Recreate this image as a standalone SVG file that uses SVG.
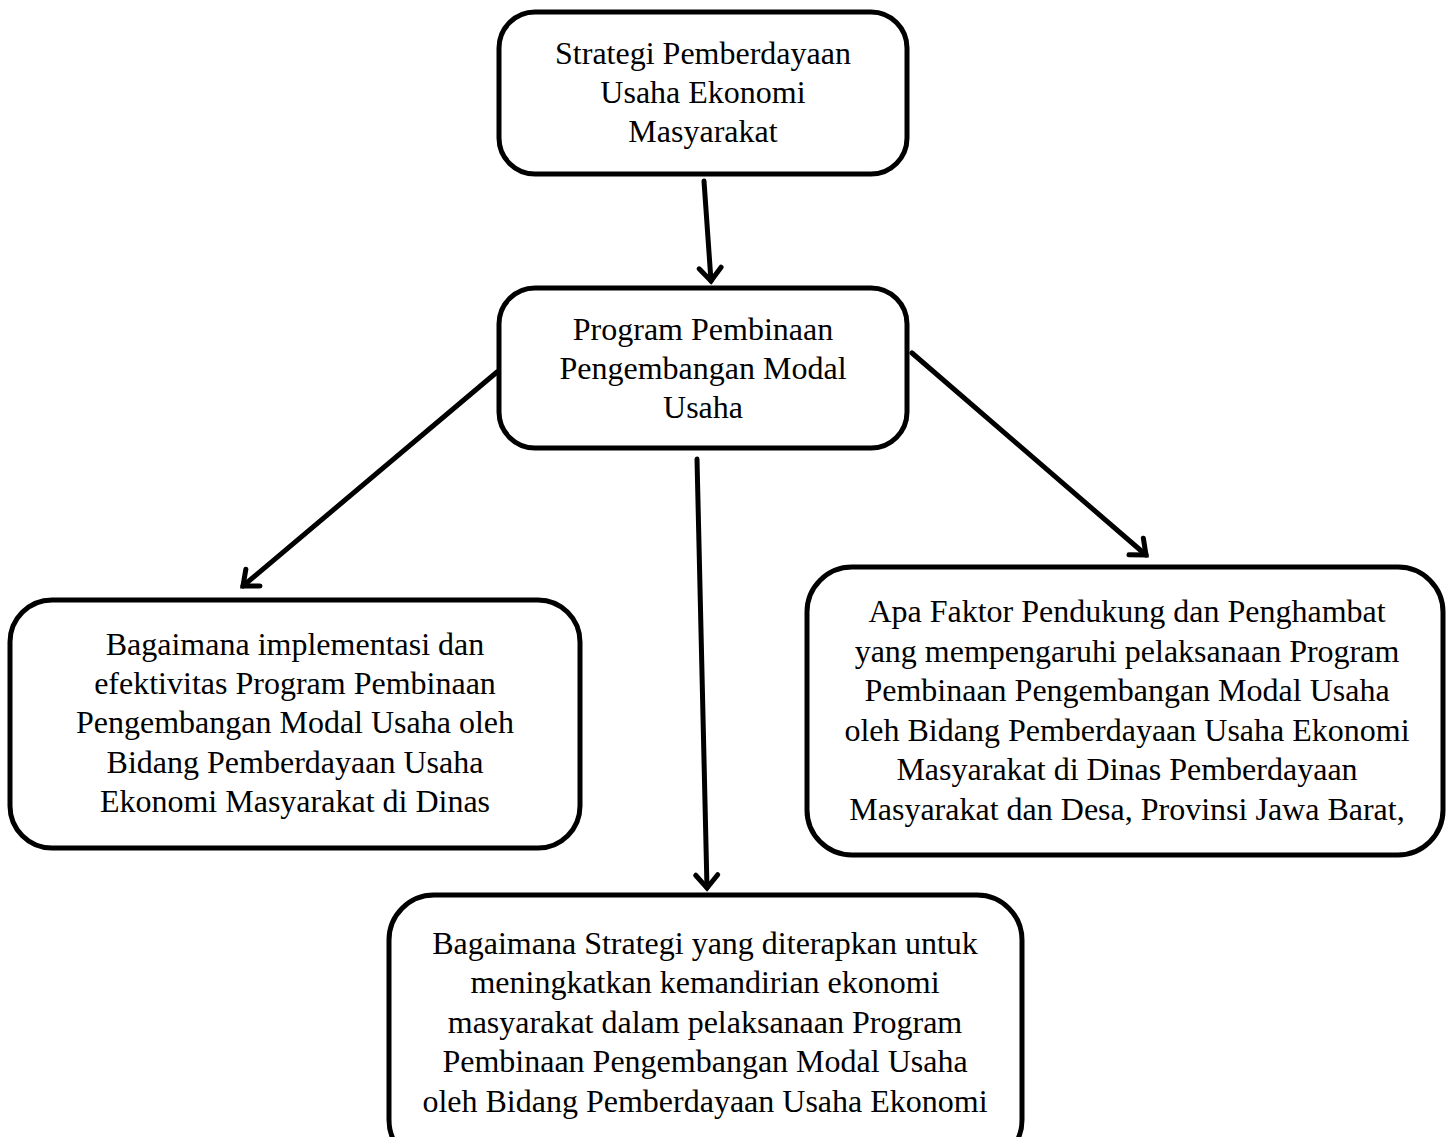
<svg xmlns="http://www.w3.org/2000/svg" width="1453" height="1137" viewBox="0 0 1453 1137">
<style>
.box{fill:#fff;stroke:#000;stroke-width:5}
.t{font-family:"Liberation Serif","Times New Roman",serif;font-size:32px;fill:#000;text-anchor:middle}
.c{stroke:#000;stroke-width:5;fill:none;stroke-linecap:round}
</style>
<defs>
<marker id="ah" markerUnits="userSpaceOnUse" viewBox="-20 -16 24 32" refX="0" refY="0" markerWidth="24" markerHeight="32" orient="auto">
<path d="M-13,-11 L0,0 L-13,11" fill="none" stroke="#000" stroke-width="5" stroke-linecap="round" stroke-linejoin="miter"/>
</marker>
</defs>
<rect width="1453" height="1137" fill="#fff"/>
<g id="connectors">
<line class="c" x1="704" y1="181" x2="711" y2="281" marker-end="url(#ah)"/>
<line class="c" x1="497" y1="372" x2="243" y2="586" marker-end="url(#ah)"/>
<line class="c" x1="912" y1="353" x2="1146" y2="555" marker-end="url(#ah)"/>
<line class="c" x1="697" y1="459" x2="707" y2="888" marker-end="url(#ah)"/>
</g>
<g id="node-top">
<rect class="box" x="499" y="12" width="408" height="162" rx="36"/>
<text class="t" x="703" y="64">Strategi Pemberdayaan</text>
<text class="t" x="703" y="103">Usaha Ekonomi</text>
<text class="t" x="703" y="142">Masyarakat</text>
</g>
<g id="node-program">
<rect class="box" x="499" y="288" width="408" height="160" rx="36"/>
<text class="t" x="703" y="340">Program Pembinaan</text>
<text class="t" x="703" y="379">Pengembangan Modal</text>
<text class="t" x="703" y="418">Usaha</text>
</g>
<g id="node-left">
<rect class="box" x="10" y="600" width="570" height="248" rx="42"/>
<text class="t" x="295" y="655">Bagaimana implementasi dan</text>
<text class="t" x="295" y="694">efektivitas Program Pembinaan</text>
<text class="t" x="295" y="733">Pengembangan Modal Usaha oleh</text>
<text class="t" x="295" y="773">Bidang Pemberdayaan Usaha</text>
<text class="t" x="295" y="812">Ekonomi Masyarakat di Dinas</text>
</g>
<g id="node-right">
<rect class="box" x="807" y="567" width="636" height="288" rx="45"/>
<text class="t" x="1127" y="622">Apa Faktor Pendukung dan Penghambat</text>
<text class="t" x="1127" y="662">yang mempengaruhi pelaksanaan Program</text>
<text class="t" x="1127" y="701">Pembinaan Pengembangan Modal Usaha</text>
<text class="t" x="1127" y="741">oleh Bidang Pemberdayaan Usaha Ekonomi</text>
<text class="t" x="1127" y="780">Masyarakat di Dinas Pemberdayaan</text>
<text class="t" x="1127" y="820">Masyarakat dan Desa, Provinsi Jawa Barat,</text>
</g>
<g id="node-bottom">
<rect class="box" x="389" y="895" width="633" height="270" rx="45"/>
<text class="t" x="705" y="954">Bagaimana Strategi yang diterapkan untuk</text>
<text class="t" x="705" y="993">meningkatkan kemandirian ekonomi</text>
<text class="t" x="705" y="1033">masyarakat dalam pelaksanaan Program</text>
<text class="t" x="705" y="1072">Pembinaan Pengembangan Modal Usaha</text>
<text class="t" x="705" y="1112">oleh Bidang Pemberdayaan Usaha Ekonomi</text>
</g>
</svg>
